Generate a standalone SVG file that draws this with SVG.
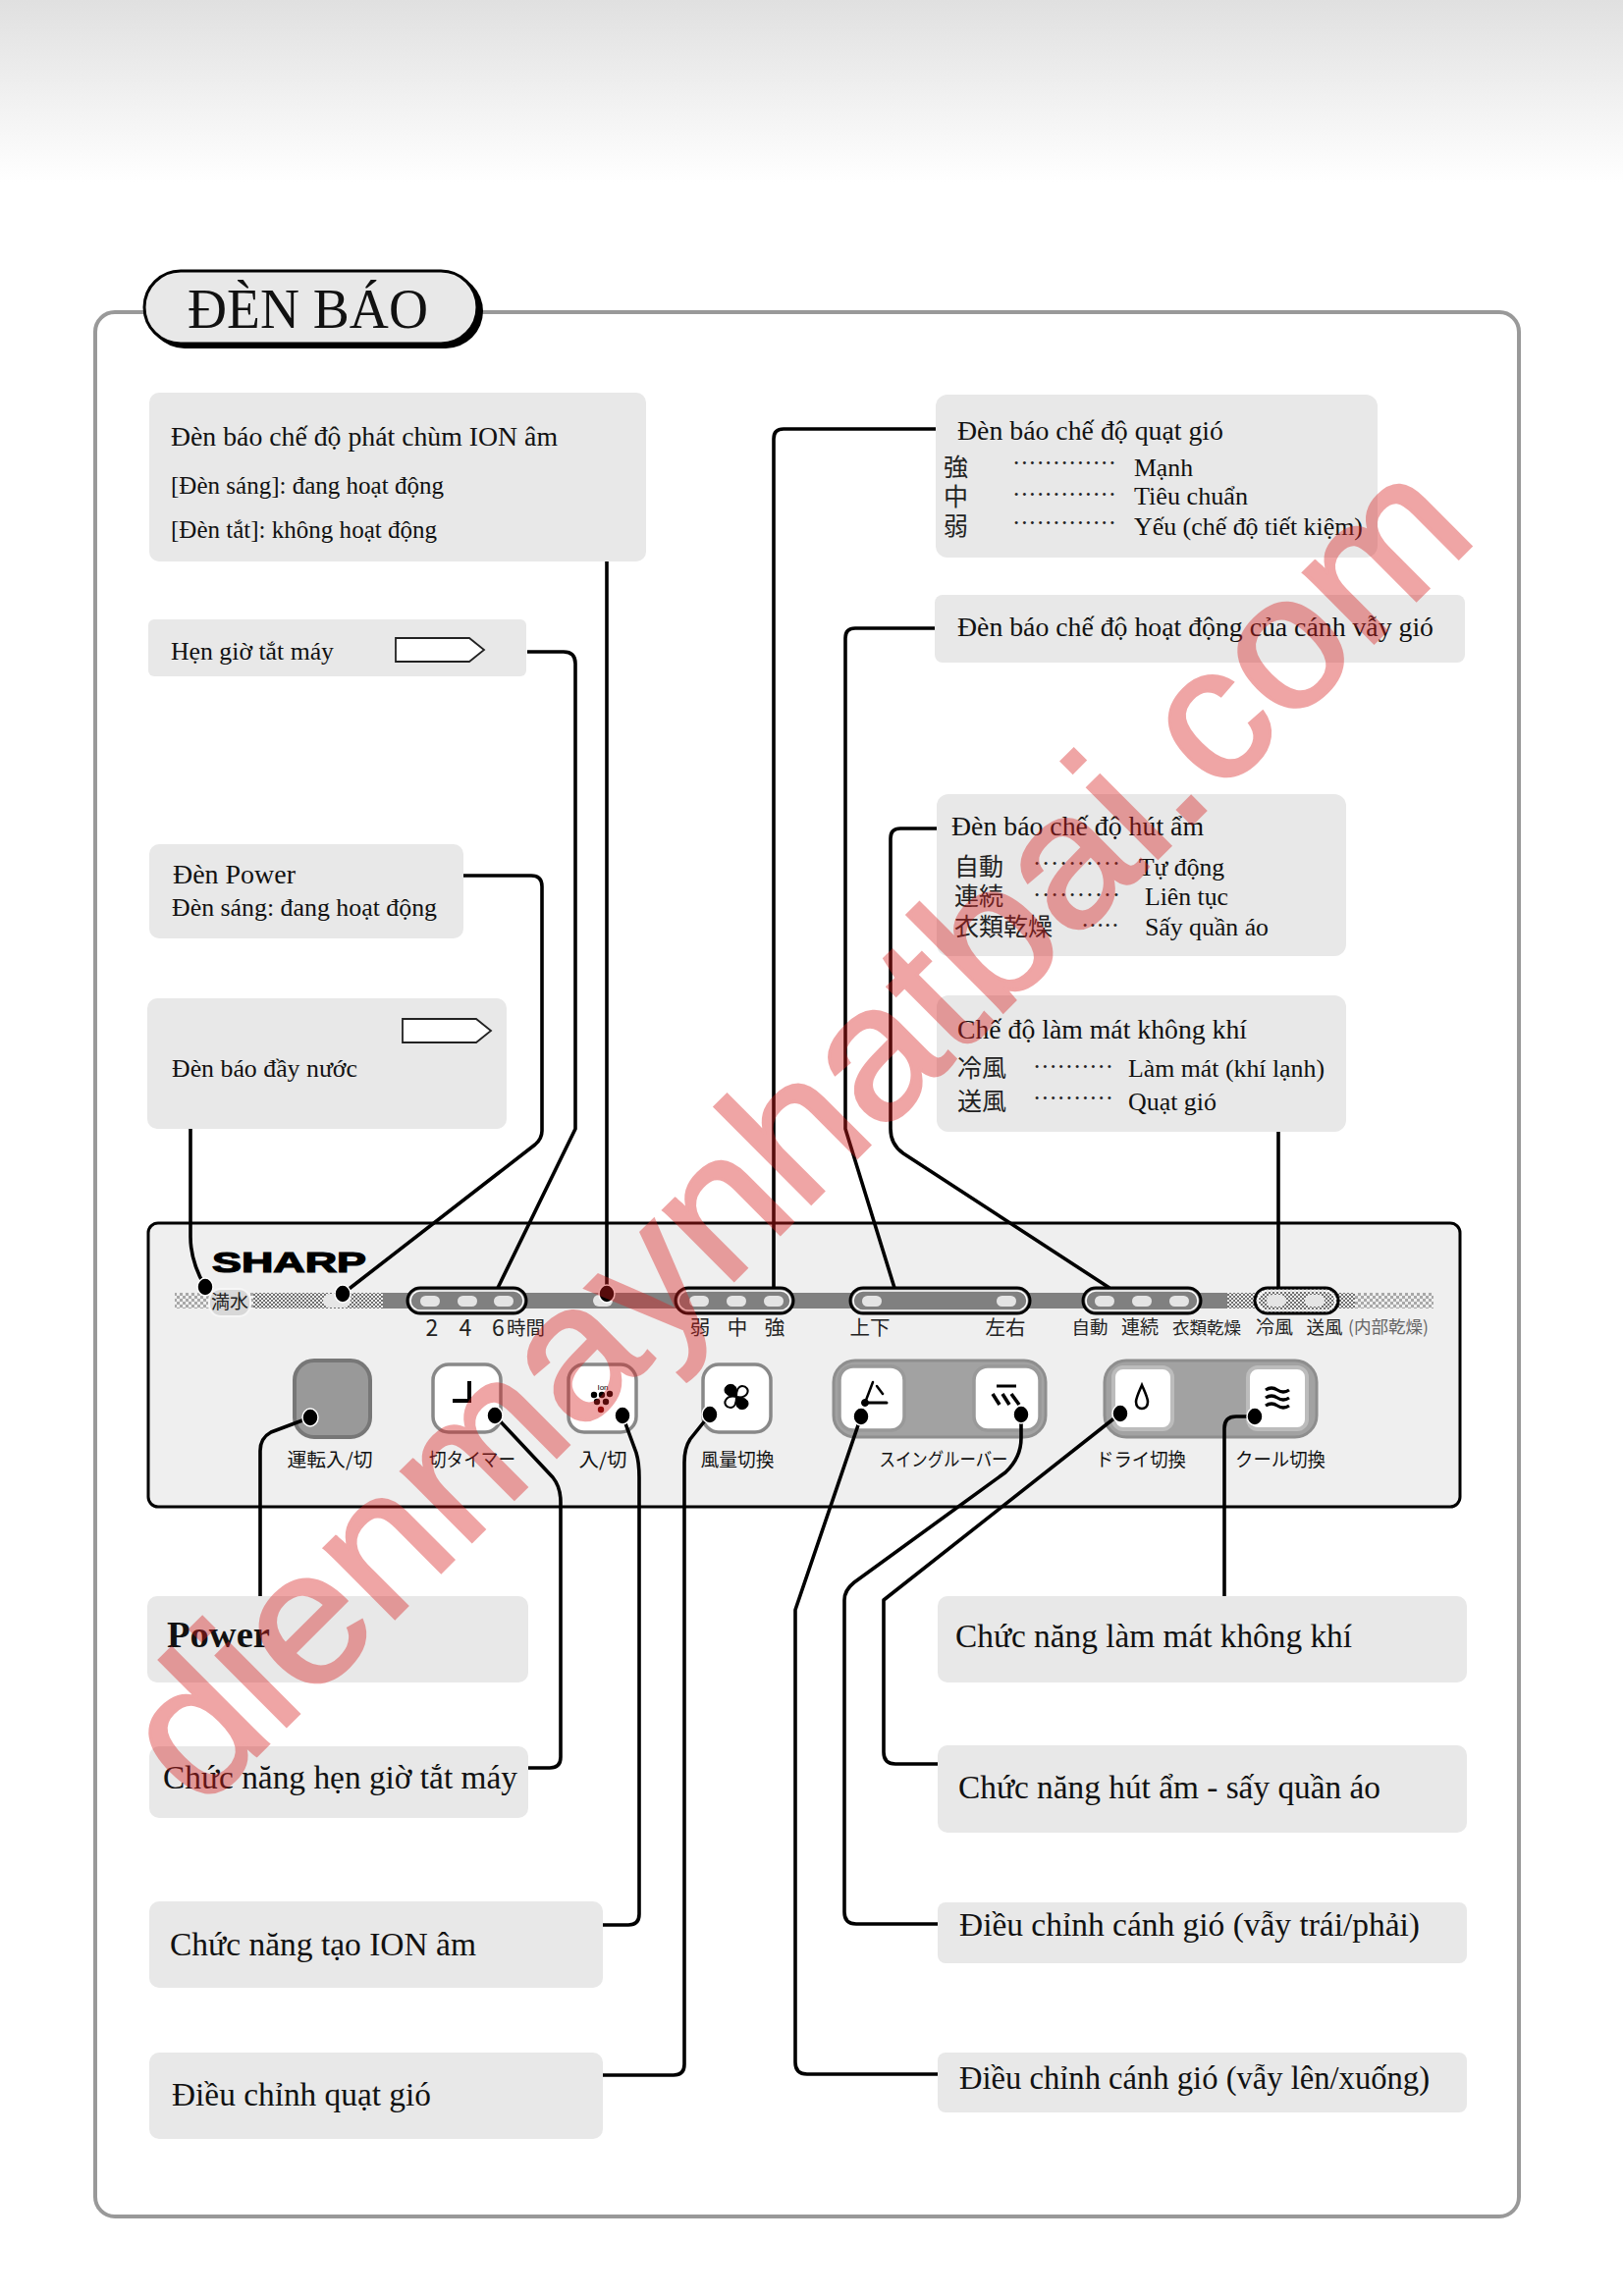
<svg xmlns="http://www.w3.org/2000/svg" xmlns:xlink="http://www.w3.org/1999/xlink" width="1653" height="2339" viewBox="0 0 1653 2339">
<style>
.box{fill:#e8e8e8}
.s{font-family:"Liberation Serif","Times New Roman",serif;fill:#111}
.s25{font-size:25px}.s26{font-size:27px}.s33{font-size:33px}
.k{font-family:"Noto Sans CJK JP","Noto Sans CJK SC",sans-serif;fill:#222}
.kb{font-size:25px}
.kl{font-size:20.5px;text-anchor:middle}
.kt{font-size:19px;text-anchor:middle;fill:#111}
.d{font-family:"Liberation Serif",serif;font-size:25px;fill:#222;letter-spacing:0}
.c{fill:none;stroke:#000;stroke-width:3.6;stroke-linejoin:round;stroke-linecap:butt}
.dot{fill:#000;stroke:#fff;stroke-width:1.5}
.tag{fill:#fff;stroke:#222;stroke-width:1.8}
.led{fill:#e4e4e4}
.pill{fill:#808080;stroke:#000;stroke-width:3;}
.pilli{fill:none;stroke:#fff;stroke-width:1.5}
.btn{fill:#fff;stroke:#888;stroke-width:3.5}
.btl{fill:#fff;stroke:#bcbcbc;stroke-width:4}
.grp{fill:#a2a2a2;stroke:#8e8e8e;stroke-width:3}
</style>
<defs>
<linearGradient id="top" x1="0" y1="0" x2="0" y2="1"><stop offset="0" stop-color="#e0e0e0"/><stop offset="1" stop-color="#fff"/></linearGradient>
<pattern id="dith" width="4" height="4" patternUnits="userSpaceOnUse"><rect width="4" height="4" fill="#efefef"/><rect width="2" height="2" fill="#707070"/><rect x="2" y="2" width="2" height="2" fill="#707070"/></pattern>
<pattern id="dith2" width="6" height="6" patternUnits="userSpaceOnUse"><rect width="6" height="6" fill="#efefef"/><rect width="3" height="3" fill="#a8a8a8"/><rect x="3" y="3" width="3" height="3" fill="#a8a8a8"/></pattern>
<path id="bladeB" d="M750 1423C744 1423 738 1421 738 1416C738 1412 743 1409 747 1411C751 1413 751 1418 750 1423Z" fill="#000" stroke="#000" stroke-width="1"/>
<path id="bladeW" d="M750 1423C744 1423 739 1421 739 1417C739 1413 743 1410 746.500 1412C750 1414 751 1418 750 1423Z" fill="#fff" stroke="#000" stroke-width="2"/>
</defs>
<rect width="1653" height="185" fill="url(#top)"/>
<rect x="97" y="318" width="1450" height="1940" rx="20" fill="#fff" stroke="#999" stroke-width="4"/>
<g id="title">
<rect x="150" y="279" width="342" height="76" rx="38" fill="#000"/>
<rect x="147" y="276" width="339" height="74" rx="37" fill="#e8e8e8" stroke="#000" stroke-width="3"/>
<text class="s" x="191" y="334" font-size="58" textLength="245" lengthAdjust="spacingAndGlyphs">ĐÈN BÁO</text>
</g>
<g id="panel">
<rect x="151" y="1246" width="1336" height="289" rx="10" fill="#efefef" stroke="#000" stroke-width="3"/>
<text x="216" y="1296" font-family="Liberation Sans,sans-serif" font-weight="700" font-size="29" textLength="157" lengthAdjust="spacingAndGlyphs" stroke="#000" stroke-width="1.2">SHARP</text>
<rect x="178" y="1317" width="80" height="16" fill="url(#dith2)"/>
<rect x="258" y="1317" width="132" height="16" fill="url(#dith)"/>
<rect x="390" y="1317" width="860" height="16" fill="#808080"/>
<rect x="1250" y="1317" width="130" height="16" fill="url(#dith)"/>
<rect x="1380" y="1317" width="80" height="16" fill="url(#dith2)"/>
<rect x="213" y="1313" width="42" height="28" rx="12" fill="#d8d8d8" stroke="#f6f6f6" stroke-width="2"/>
<text class="k" x="234" y="1333" font-size="19" text-anchor="middle">満水</text>
<rect x="329" y="1318" width="28" height="14" rx="7" fill="#e6e6e6"/>
<rect x="604" y="1319" width="20" height="12" rx="6" class="led"/>
<g id="pills">
<rect class="pill" x="415" y="1312" width="121" height="26" rx="13"/><rect class="pilli" x="418" y="1315" width="115" height="20" rx="10"/>
<rect class="led" x="428" y="1320" width="20" height="11" rx="5.5"/><rect class="led" x="466" y="1320" width="20" height="11" rx="5.5"/><rect class="led" x="503" y="1320" width="20" height="11" rx="5.5"/>
<rect class="pill" x="688" y="1312" width="120" height="26" rx="13"/><rect class="pilli" x="691" y="1315" width="114" height="20" rx="10"/>
<rect class="led" x="702" y="1320" width="20" height="11" rx="5.5"/><rect class="led" x="740" y="1320" width="20" height="11" rx="5.5"/><rect class="led" x="778" y="1320" width="20" height="11" rx="5.5"/>
<rect class="pill" x="866" y="1312" width="183" height="26" rx="13"/><rect class="pilli" x="869" y="1315" width="177" height="20" rx="10"/>
<rect class="led" x="878" y="1320" width="20" height="11" rx="5.5"/><rect class="led" x="1015" y="1320" width="20" height="11" rx="5.5"/>
<rect class="pill" x="1103" y="1312" width="120" height="26" rx="13"/><rect class="pilli" x="1106" y="1315" width="114" height="20" rx="10"/>
<rect class="led" x="1115" y="1320" width="20" height="11" rx="5.5"/><rect class="led" x="1153" y="1320" width="20" height="11" rx="5.5"/><rect class="led" x="1191" y="1320" width="20" height="11" rx="5.5"/>
<rect class="pill" x="1278" y="1312" width="85" height="26" rx="13" style="fill:url(#dith)"/><rect class="pilli" x="1281" y="1315" width="79" height="20" rx="10"/>
<rect class="led" x="1290" y="1319" width="20" height="12" rx="6"/><rect class="led" x="1329" y="1319" width="20" height="12" rx="6"/>
</g>
<g id="led-labels">
<text class="k" x="440" y="1361" font-size="23" text-anchor="middle">2</text>
<text class="k" x="474" y="1361" font-size="23" text-anchor="middle">4</text>
<text class="k" x="501" y="1361" font-size="23">6</text>
<text class="k" x="516" y="1360" font-size="19.5">時間</text>
<text class="k kl" x="713" y="1360">弱</text><text class="k kl" x="751" y="1360">中</text><text class="k kl" x="789" y="1360">強</text>
<text class="k kl" x="886" y="1360">上下</text><text class="k kl" x="1024" y="1360">左右</text>
<text class="k kl" x="1110" y="1359" style="font-size:18.500px">自動</text><text class="k kl" x="1161" y="1359" style="font-size:19px">連続</text><text class="k kl" x="1229" y="1359" style="font-size:17.500px">衣類乾燥</text>
<text class="k kl" x="1298" y="1359" style="font-size:19px">冷風</text><text class="k kl" x="1349" y="1359" style="font-size:18.500px">送風</text>
<text class="k kl" x="1414" y="1358" style="font-size:17.500px;fill:#666">(内部乾燥)</text>
</g>
<g id="buttons">
<rect x="300" y="1386" width="77" height="78" rx="20" fill="#999" stroke="#777" stroke-width="4"/>
<rect class="btn" x="441" y="1390" width="69" height="69" rx="16"/>
<path d="M478 1407V1427H461" fill="none" stroke="#000" stroke-width="4"/>
<rect class="btn" x="579" y="1390" width="69" height="69" rx="16"/>
<text x="614" y="1416" font-family="Liberation Sans,sans-serif" font-size="8" fill="#000" text-anchor="middle">Ion</text>
<g fill="#000"><circle cx="605" cy="1421" r="3.2"/><circle cx="613" cy="1421" r="3.2"/><circle cx="621" cy="1420" r="3.2"/><circle cx="608" cy="1428" r="3.2"/><circle cx="617" cy="1428" r="3.2"/><circle cx="612" cy="1436" r="3.2" fill="#600"/></g>
<rect class="btn" x="716" y="1390" width="69" height="69" rx="16"/>
<use xlink:href="#bladeB" href="#bladeB"/>
<use xlink:href="#bladeW" href="#bladeW" transform="rotate(90 750 1423)"/>
<use xlink:href="#bladeB" href="#bladeB" transform="rotate(180 750 1423)"/>
<use xlink:href="#bladeW" href="#bladeW" transform="rotate(270 750 1423)"/>
<rect class="grp" x="849" y="1386" width="216" height="78" rx="22"/>
<rect class="btn" x="855" y="1392" width="66" height="65" rx="14" style="stroke:#999"/>
<rect class="btn" x="992" y="1392" width="67" height="65" rx="14" style="stroke:#999"/>
<g fill="none" stroke="#000" stroke-linecap="round"><path d="M881 1429L889 1408" stroke-width="2.500"/><path d="M881 1429H903" stroke-width="3"/><path d="M893 1412L899 1420" stroke-width="2.500"/><circle cx="881" cy="1429" r="3.500" fill="#000"/></g>
<g fill="none" stroke="#000" stroke-width="3.600"><path d="M1015 1412H1035" stroke-width="3"/><path d="M1011 1420L1018 1431M1021 1420L1028 1431M1030 1420L1038 1431"/></g>
<rect class="grp" x="1125" y="1386" width="216" height="78" rx="22"/>
<rect class="btl" x="1134" y="1393" width="60" height="63" rx="10"/>
<rect class="btl" x="1271" y="1393" width="60" height="63" rx="10"/>
<path d="M1163 1411C1159 1420 1157 1424 1157 1428C1157 1433 1160 1435 1163 1435C1166 1435 1169 1433 1169 1428C1169 1424 1167 1420 1163 1411Z" fill="#fff" stroke="#000" stroke-width="2.600"/>
<path d="M1289 1416q6-4 12 0t12 0M1289 1424q6-4 12 0t12 0M1289 1432q6-4 12 0t12 0" fill="none" stroke="#000" stroke-width="3.200"/>
</g>
<g id="btn-labels">
<text class="k kt" x="336" y="1494" textLength="87" lengthAdjust="spacingAndGlyphs">運転入/切</text>
<text class="k kt" x="481" y="1494" textLength="88" lengthAdjust="spacingAndGlyphs">切タイマー</text>
<text class="k kt" x="614" y="1494" textLength="49" lengthAdjust="spacingAndGlyphs">入/切</text>
<text class="k kt" x="751" y="1494" textLength="75" lengthAdjust="spacingAndGlyphs">風量切換</text>
<text class="k kt" x="961" y="1494" textLength="131" lengthAdjust="spacingAndGlyphs">スイングルーバー</text>
<text class="k kt" x="1162" y="1494" textLength="92" lengthAdjust="spacingAndGlyphs">ドライ切換</text>
<text class="k kt" x="1304" y="1494" textLength="92" lengthAdjust="spacingAndGlyphs">クール切換</text>
</g>
</g>
<g id="node-ion"><rect class="box" x="152" y="400" width="506" height="172" rx="10"/>
<text class="s s26" x="174" y="454" textLength="394" lengthAdjust="spacingAndGlyphs">Đèn báo chế độ phát chùm ION âm</text>
<text class="s s25" x="174" y="503" textLength="278" lengthAdjust="spacingAndGlyphs">[Đèn sáng]: đang hoạt động</text>
<text class="s s25" x="174" y="548" textLength="271" lengthAdjust="spacingAndGlyphs">[Đèn tắt]: không hoạt động</text></g>
<g id="node-timer"><rect class="box" x="151" y="631" width="385" height="58" rx="6"/>
<text class="s s25" x="174" y="672" textLength="166" lengthAdjust="spacingAndGlyphs">Hẹn giờ tắt máy</text>
<path class="tag" d="M403 650H478L493 662L478 674H403Z"/></g>
<g id="node-power-led"><rect class="box" x="152" y="860" width="320" height="96" rx="10"/>
<text class="s s26" x="176" y="900" textLength="125" lengthAdjust="spacingAndGlyphs">Đèn Power</text>
<text class="s s25" x="175" y="933" textLength="270" lengthAdjust="spacingAndGlyphs">Đèn sáng: đang hoạt động</text></g>
<g id="node-water"><rect class="box" x="150" y="1017" width="366" height="133" rx="10"/>
<text class="s s25" x="175" y="1097" textLength="189" lengthAdjust="spacingAndGlyphs">Đèn báo đầy nước</text>
<path class="tag" d="M410 1038H485L500 1050L485 1062H410Z"/></g>
<g id="node-fan-led"><rect class="box" x="953" y="402" width="450" height="166" rx="12"/>
<text class="s s26" x="975" y="448" textLength="271" lengthAdjust="spacingAndGlyphs">Đèn báo chế độ quạt gió</text>
<text class="k kb" x="961" y="485">強</text><text class="k kb" x="961" y="515">中</text><text class="k kb" x="961" y="545">弱</text>
<text class="d" x="1032" y="473" textLength="104">.............</text><text class="d" x="1032" y="505" textLength="104">.............</text><text class="d" x="1032" y="534" textLength="104">.............</text>
<text class="s s25" x="1155" y="485" textLength="60" lengthAdjust="spacingAndGlyphs">Mạnh</text>
<text class="s s25" x="1155" y="514" textLength="116" lengthAdjust="spacingAndGlyphs">Tiêu chuẩn</text>
<text class="s s25" x="1155" y="545" textLength="233" lengthAdjust="spacingAndGlyphs">Yếu (chế độ tiết kiệm)</text></g>
<g id="node-swing-led"><rect class="box" x="952" y="606" width="540" height="69" rx="8"/>
<text class="s s26" x="975" y="648" textLength="485" lengthAdjust="spacingAndGlyphs">Đèn báo chế độ hoạt động của cánh vẫy gió</text></g>
<g id="node-dry-led"><rect class="box" x="954" y="809" width="417" height="165" rx="12"/>
<text class="s s26" x="969" y="851" textLength="257" lengthAdjust="spacingAndGlyphs">Đèn báo chế độ hút ẩm</text>
<text class="k kb" x="972" y="892">自動</text><text class="k kb" x="972" y="922">連続</text><text class="k kb" x="972" y="953">衣類乾燥</text>
<text class="d" x="1053" y="881" textLength="87">..........</text><text class="d" x="1053" y="913" textLength="87">..........</text><text class="d" x="1102" y="944" textLength="37">.....</text>
<text class="s s25" x="1160" y="892" textLength="87" lengthAdjust="spacingAndGlyphs">Tự động</text>
<text class="s s25" x="1166" y="922" textLength="85" lengthAdjust="spacingAndGlyphs">Liên tục</text>
<text class="s s25" x="1166" y="953" textLength="126" lengthAdjust="spacingAndGlyphs">Sấy quần áo</text></g>
<g id="node-cool-led"><rect class="box" x="954" y="1014" width="417" height="139" rx="12"/>
<text class="s s26" x="975" y="1058" textLength="295" lengthAdjust="spacingAndGlyphs">Chế độ làm mát không khí</text>
<text class="k kb" x="975" y="1097">冷風</text><text class="k kb" x="975" y="1131">送風</text>
<text class="d" x="1053" y="1088" textLength="80">..........</text><text class="d" x="1053" y="1120" textLength="80">..........</text>
<text class="s s25" x="1149" y="1097" textLength="200" lengthAdjust="spacingAndGlyphs">Làm mát (khí lạnh)</text>
<text class="s s25" x="1149" y="1131" textLength="90" lengthAdjust="spacingAndGlyphs">Quạt gió</text></g>
<g id="node-power"><rect class="box" x="150" y="1626" width="388" height="88" rx="10"/>
<text class="s" x="170" y="1678" font-size="38" font-weight="700" textLength="105" lengthAdjust="spacingAndGlyphs">Power</text></g>
<g id="node-timer-fn"><rect class="box" x="152" y="1779" width="386" height="73" rx="10"/>
<text class="s s33" x="166" y="1822" textLength="361" lengthAdjust="spacingAndGlyphs">Chức năng hẹn giờ tắt máy</text></g>
<g id="node-ion-fn"><rect class="box" x="152" y="1937" width="462" height="88" rx="10"/>
<text class="s s33" x="173" y="1992" textLength="312" lengthAdjust="spacingAndGlyphs">Chức năng tạo ION âm</text></g>
<g id="node-fan-fn"><rect class="box" x="152" y="2091" width="462" height="88" rx="10"/>
<text class="s s33" x="175" y="2145" textLength="264" lengthAdjust="spacingAndGlyphs">Điều chỉnh quạt gió</text></g>
<g id="node-cool-fn"><rect class="box" x="955" y="1626" width="539" height="88" rx="10"/>
<text class="s s33" x="973" y="1678" textLength="404" lengthAdjust="spacingAndGlyphs">Chức năng làm mát không khí</text></g>
<g id="node-dry-fn"><rect class="box" x="955" y="1778" width="539" height="89" rx="10"/>
<text class="s s33" x="976" y="1832" textLength="430" lengthAdjust="spacingAndGlyphs">Chức năng hút ẩm - sấy quần áo</text></g>
<g id="node-lr-fn"><rect class="box" x="955" y="1938" width="539" height="62" rx="8"/>
<text class="s s33" x="977" y="1972" textLength="469" lengthAdjust="spacingAndGlyphs">Điều chỉnh cánh gió (vẫy trái/phải)</text></g>
<g id="node-ud-fn"><rect class="box" x="955" y="2091" width="539" height="61" rx="8"/>
<text class="s s33" x="977" y="2128" textLength="479" lengthAdjust="spacingAndGlyphs">Điều chỉnh cánh gió (vẫy lên/xuống)</text></g>
<g id="connectors">
<path class="c" d="M618 572V1318"/>
<path class="c" d="M537 664H574Q586 664 586 676V1150L507 1312"/>
<path class="c" d="M472 892H541Q552 892 552 903V1152Q552 1160 545 1166L349 1318"/>
<path class="c" d="M194 1150V1260Q194 1285 209 1311"/>
<path class="c" d="M953 437H798Q788 437 788 447V1312"/>
<path class="c" d="M952 640H871Q861 640 861 650V1150L911 1312"/>
<path class="c" d="M954 844H917Q907 844 907 854V1150Q907 1166 920 1175L1130 1312"/>
<path class="c" d="M1302 1153V1312"/>
<path class="c" d="M265 1626V1478Q265 1465 276 1459L316 1444"/>
<path class="c" d="M538 1801H560Q571 1801 571 1790V1530Q571 1515 563 1505L504 1442"/>
<path class="c" d="M614 1961H640Q651 1961 651 1950V1505Q651 1490 648 1480L634 1442"/>
<path class="c" d="M614 2114H686Q697 2114 697 2103V1490Q697 1475 703 1466L723 1441"/>
<path class="c" d="M1247 1626V1455Q1247 1443 1259 1443H1278"/>
<path class="c" d="M955 1797H912Q900 1797 900 1785V1630L1141 1440"/>
<path class="c" d="M955 1960H872Q860 1960 860 1948V1630Q860 1620 870 1612L1024 1500Q1040 1485 1040 1465V1441"/>
<path class="c" d="M955 2113H822Q810 2113 810 2101V1640L877 1443"/>
</g>
<g id="dots">
<ellipse class="dot" cx="209" cy="1311" rx="8" ry="9"/><ellipse class="dot" cx="349" cy="1318" rx="8" ry="9"/><ellipse class="dot" cx="618" cy="1318" rx="8" ry="9"/>
<ellipse class="dot" cx="316" cy="1444" rx="8" ry="9"/><ellipse class="dot" cx="504" cy="1442" rx="8" ry="9"/><ellipse class="dot" cx="634" cy="1442" rx="8" ry="9"/><ellipse class="dot" cx="723" cy="1441" rx="8" ry="9"/>
<ellipse class="dot" cx="877" cy="1443" rx="8" ry="9"/><ellipse class="dot" cx="1040" cy="1441" rx="8" ry="9"/><ellipse class="dot" cx="1141" cy="1440" rx="8" ry="9"/><ellipse class="dot" cx="1278" cy="1443" rx="8" ry="9"/>
</g>
<text id="watermark" transform="translate(204 1846) rotate(-44.9)" font-family="Liberation Sans,Arial,sans-serif" font-size="192" fill="#d92020" stroke="#d92020" stroke-width="3" opacity=".4" textLength="1840" lengthAdjust="spacingAndGlyphs">dienmaynhatbai.com</text>
</svg>
